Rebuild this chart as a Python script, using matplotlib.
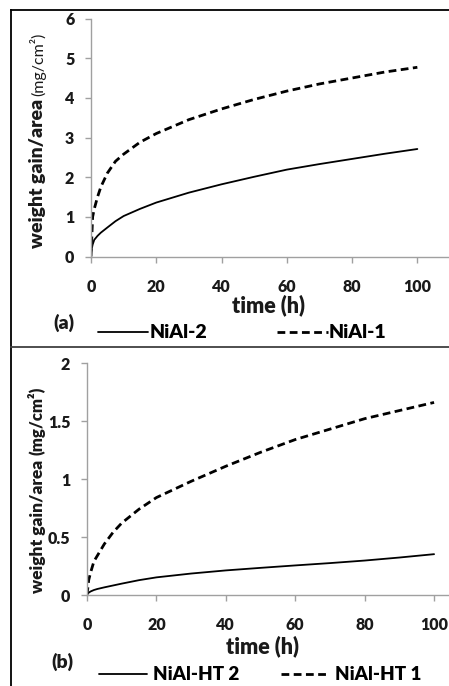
import matplotlib
matplotlib.use("Agg")
import matplotlib.pyplot as plt
from matplotlib.lines import Line2D

plt.rcParams['font.family'] = ['Lato', 'DejaVu Sans']

# ---- data ----
time_a = [0, 0.5, 1, 2, 3, 5, 7.5, 10, 15, 20, 30, 40, 50, 60, 70, 80, 90, 100]
nial2 = [0.10, 0.30, 0.42, 0.52, 0.60, 0.73, 0.89, 1.02, 1.20, 1.36, 1.61, 1.82, 2.01, 2.19, 2.33, 2.46, 2.59, 2.71]
nial1 = [0.0, 1.00, 1.20, 1.50, 1.75, 2.10, 2.40, 2.58, 2.88, 3.10, 3.45, 3.72, 3.96, 4.17, 4.35, 4.50, 4.65, 4.77]

time_b = [0, 0.5, 1, 2, 3, 5, 7.5, 10, 15, 20, 30, 40, 50, 60, 70, 80, 90, 100]
nialht2 = [0.01, 0.02, 0.03, 0.043, 0.052, 0.066, 0.082, 0.098, 0.128, 0.152, 0.185, 0.212, 0.234, 0.255, 0.275, 0.297, 0.323, 0.352]
nialht1 = [0.0, 0.13, 0.19, 0.29, 0.34, 0.44, 0.54, 0.62, 0.74, 0.84, 0.98, 1.11, 1.23, 1.34, 1.43, 1.52, 1.59, 1.66]

xticks = [0, 20, 40, 60, 80, 100]
yticks_a = [0, 1, 2, 3, 4, 5, 6]
yticks_b = [0, 0.5, 1, 1.5, 2]
yticklabels_b = ['0', '0.5', '1', '1.5', '2']

W, H = 449, 686
fig = plt.figure(figsize=(W / 100, H / 100), dpi=100)
fig.patch.set_facecolor('white')

def fx(px):
    return px / W

def fy(py):
    return 1 - py / H

def axes_from_px(left, right, top, bottom):
    return fig.add_axes([fx(left), fy(bottom), fx(right) - fx(left), fy(top) - fy(bottom)])

GRAY = '#a0a0a0'
TXT = '#1a1a1a'
WT = 'heavy'

def style(ax, xmax, ymax, yticks, yticklabels=None):
    ax.set_xlim(0, xmax)
    ax.set_ylim(0, ymax)
    for s in ['top', 'right']:
        ax.spines[s].set_visible(False)
    for s in ['left', 'bottom']:
        ax.spines[s].set_color(GRAY)
        ax.spines[s].set_linewidth(1.0)
    ax.set_xticks(xticks)
    ax.set_yticks(yticks)
    if yticklabels is not None:
        ax.set_yticklabels(yticklabels)
    ax.tick_params(axis='both', direction='out', length=4, width=1, color=GRAY,
                   labelsize=11.5, labelcolor=TXT)
    ax.tick_params(axis='x', pad=12)
    ax.tick_params(axis='y', pad=8)
    for lab in ax.get_xticklabels() + ax.get_yticklabels():
        lab.set_fontweight(WT)
    ax.patch.set_alpha(0)

# ---- panel (a) ----
ax1 = axes_from_px(91, 449, 18.5, 256.5)
l2, = ax1.plot(time_a, nial2, color='black', lw=1.3, solid_capstyle='round')
l1, = ax1.plot(time_a, nial1, color='black', lw=2.0, dashes=(2.8, 1.6))
style(ax1, 109.7, 6, yticks_a)

fig.text(fx(268), fy(305), 'time (h)', ha='center', va='center', fontsize=15.5,
         fontweight=WT, color=TXT)
fig.text(fx(64), fy(323), '(a)', ha='center', va='center', fontsize=14,
         fontweight=WT, color=TXT)
fig.text(fx(43), fy(248), 'weight gain/area', rotation=90, rotation_mode='anchor',
         ha='left', va='baseline', fontsize=14, fontweight=WT, color=TXT)
fig.text(fx(43), fy(96), '(mg/cm²)', rotation=90, rotation_mode='anchor',
         ha='left', va='baseline', fontsize=11.5, fontweight='normal', color=TXT)
fig.legend([l2, l1], ['NiAl-2', 'NiAl-1'], loc='center', ncol=2,
           bbox_to_anchor=(fx(242), fy(333)), frameon=False, handlelength=2.6,
           handletextpad=0.05, columnspacing=3.6,
           prop={'weight': WT, 'size': 14})

# ---- panel (b) ----
ax2 = axes_from_px(87, 449, 363, 595)
m2, = ax2.plot(time_b, nialht2, color='black', lw=1.3, solid_capstyle='round')
m1, = ax2.plot(time_b, nialht1, color='black', lw=2.0, dashes=(2.8, 1.6))
style(ax2, 104.3, 2, yticks_b, yticklabels_b)

fig.text(fx(263), fy(646), 'time (h)', ha='center', va='center', fontsize=15.5,
         fontweight=WT, color=TXT)
fig.text(fx(62), fy(662), '(b)', ha='center', va='center', fontsize=14,
         fontweight=WT, color=TXT)
fig.text(fx(43), fy(593), 'weight gain/area', rotation=90, rotation_mode='anchor',
         ha='left', va='baseline', fontsize=12.5, fontweight=WT, color=TXT)
fig.text(fx(43), fy(455), '(mg/cm²)', rotation=90, rotation_mode='anchor',
         ha='left', va='baseline', fontsize=12, fontweight=WT, color=TXT)
fig.legend([m2, m1], ['NiAl-HT 2', 'NiAl-HT 1'], loc='center', ncol=2,
           bbox_to_anchor=(fx(260), fy(675)), frameon=False, handlelength=2.6,
           handletextpad=0.3, columnspacing=2.2,
           prop={'weight': WT, 'size': 13.5})

# ---- panel frames ----
fig.add_artist(Line2D([fx(11), 1], [fy(10), fy(10)], color='black', lw=1.3))
fig.add_artist(Line2D([fx(11), fx(11)], [fy(10), 0], color='black', lw=1.3))
fig.add_artist(Line2D([fx(11), 1], [fy(347), fy(347)], color='#404040', lw=1.3))

fig.savefig('out.png', dpi=100)
